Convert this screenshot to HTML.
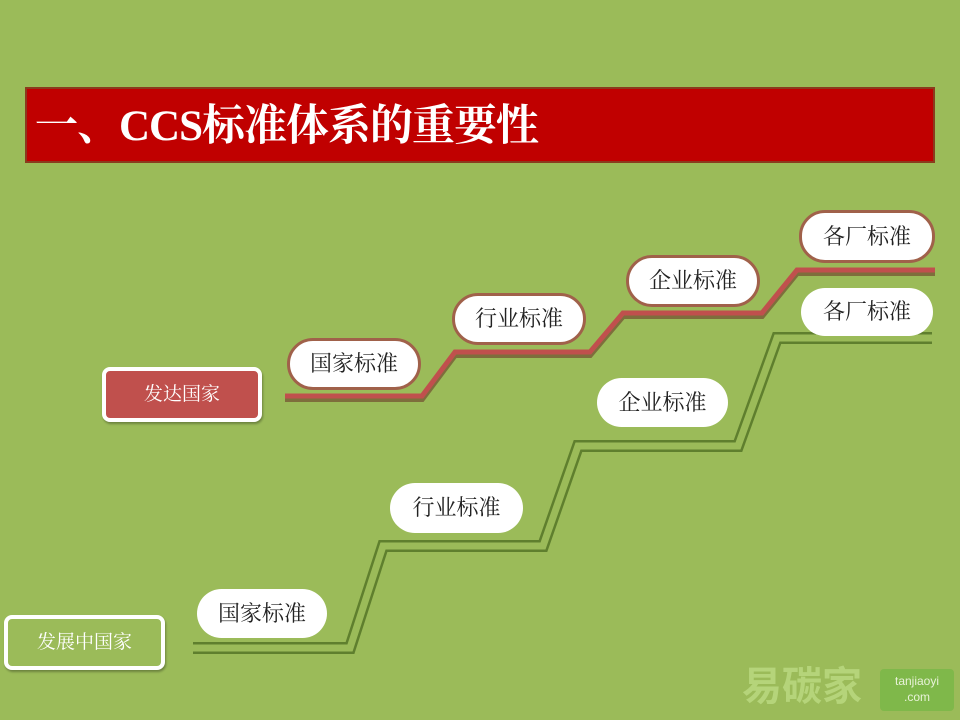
<!DOCTYPE html>
<html><head><meta charset="utf-8"><style>
body{margin:0;width:960px;height:720px;background:#9bbb59;position:relative;overflow:hidden;font-family:"Liberation Serif","Noto Serif CJK SC","Noto Sans CJK SC",serif}
.t{position:absolute;left:25px;top:87px;width:898px;height:72px;background:#c00000;border:2px solid #8a3b1e;color:#fff;font-size:43px;font-weight:bold;line-height:76px;padding-left:8px;box-sizing:content-box;letter-spacing:-1px}
.n{position:absolute;background:#fff;border-radius:26px;text-align:center;color:#222;font-size:22px;box-sizing:border-box}
.r{border:3px solid #a0614a}
.b{position:absolute;border:4px solid #fff;border-radius:8px;color:#fff;text-align:center;font-size:19px;box-sizing:border-box;box-shadow:1px 2px 2px rgba(0,0,0,.3)}
</style></head><body>
<div class="t">一、CCS标准体系的重要性</div>
<svg width="960" height="720" style="position:absolute;left:0;top:0">
<polyline points="285,399 422,399 455,355 590,355 623,316 762,316 797,273 935,273" fill="none" stroke="#6b3a2a" stroke-width="6" opacity=".6"/>
<polyline points="285,396 422,396 455,352 590,352 623,313 762,313 797,270 935,270" fill="none" stroke="#c0504d" stroke-width="5"/>
<polyline points="193,648 350,648 383,546 543,546 578,446 738,446 777,338 932,338" fill="none" stroke="#5f7f2e" stroke-width="12"/>
<polyline points="193,648 350,648 383,546 543,546 578,446 738,446 777,338 932,338" fill="none" stroke="#9bbb59" stroke-width="7"/>
</svg>
<div class="n r" style="left:287px;top:338px;width:134px;height:52px;line-height:46px">国家标准</div>
<div class="n r" style="left:452px;top:293px;width:134px;height:52px;line-height:46px">行业标准</div>
<div class="n r" style="left:626px;top:255px;width:134px;height:52px;line-height:46px">企业标准</div>
<div class="n r" style="left:799px;top:210px;width:136px;height:53px;line-height:47px">各厂标准</div>
<div class="n" style="left:197px;top:589px;width:130px;height:49px;line-height:49px">国家标准</div>
<div class="n" style="left:390px;top:483px;width:133px;height:50px;line-height:50px">行业标准</div>
<div class="n" style="left:597px;top:378px;width:131px;height:49px;line-height:49px">企业标准</div>
<div class="n" style="left:801px;top:288px;width:132px;height:48px;line-height:48px">各厂标准</div>
<div class="b" style="left:102px;top:367px;width:160px;height:55px;line-height:47px;background:#c0504d">发达国家</div>
<div class="b" style="left:4px;top:615px;width:161px;height:55px;line-height:47px;background:#9bbb59">发展中国家</div>
<div style="position:absolute;left:742px;top:655px;font-size:40px;font-weight:bold;color:#b5d47a;font-family:'Noto Sans CJK SC',sans-serif;line-height:56px">易碳家</div>
<div style="position:absolute;left:880px;top:669px;width:74px;height:42px;background:#7fb84a;border-radius:4px;color:#e8f2d8;font-size:12px;text-align:center;line-height:16px;padding-top:4px;box-sizing:border-box;font-family:'Liberation Sans',sans-serif">tanjiaoyi<br>.com</div>
</body></html>
